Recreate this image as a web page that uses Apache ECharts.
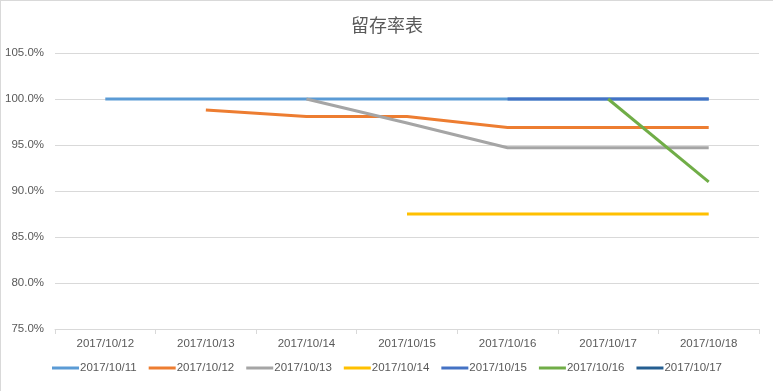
<!DOCTYPE html>
<html>
<head>
<meta charset="utf-8">
<script src="https://cdn.jsdelivr.net/npm/echarts@6/dist/echarts.min.js"></script>
<style>
html,body{margin:0;padding:0;background:#fff;}
#c{width:773px;height:391px;box-sizing:border-box;border-left:1px solid #d9d9d9;border-top:1px solid #d9d9d9;}
</style>
</head>
<body>
<div id="c"></div>
<script>
const categories = ['2017/10/12','2017/10/13','2017/10/14','2017/10/15','2017/10/16','2017/10/17','2017/10/18'];
const seriesNames = ['2017/10/11','2017/10/12','2017/10/13','2017/10/14','2017/10/15','2017/10/16','2017/10/17'];
const s1011 = [100, 100, 100, 100, 100, 100, 100];
const s1012 = [null, 98.8, 98.1, 98.1, 96.9, 96.9, 96.9];
const s1013 = [null, null, 100, 97.4, 94.7, 94.7, 94.7];
const s1014 = [null, null, null, 87.5, 87.5, 87.5, 87.5];
const s1015 = [null, null, null, null, 100, 100, 100];
const s1016 = [null, null, null, null, null, 100, 91.0];
const s1017 = [null, null, null, null, null, null, 100];
const yTicks = {min: 75, max: 105, step: 5};

const seriesData = [s1011, s1012, s1013, s1014, s1015, s1016, s1017];
const colors = ['#5B9BD5','#ED7D31','#A5A5A5','#FFC000','#4472C4','#70AD47','#255E91'];

const chart = echarts.init(document.getElementById('c'), null, {renderer: 'canvas'});
chart.setOption({
  animation: false,
  color: colors,
  title: {
    text: '留存率表',
    left: 'center',
    top: 10,
    textStyle: {fontSize: 18, fontWeight: 'normal', color: '#595959', fontFamily: 'Noto Sans CJK SC'}
  },
  grid: {left: 54, right: 14, top: 52, bottom: 62},
  legend: {
    bottom: 12,
    left: 'center',
    itemWidth: 27,
    itemHeight: 3,
    itemGap: 12,
    icon: 'rect',
    textStyle: {fontSize: 11.5, color: '#595959', fontFamily: 'Liberation Sans', padding: [0,0,0,-4]},
    data: seriesNames
  },
  xAxis: {
    type: 'category',
    data: categories,
    boundaryGap: true,
    axisLine: {lineStyle: {color: '#d9d9d9'}},
    axisTick: {show: true, alignWithLabel: false, length: 5, lineStyle: {color: '#d9d9d9'}},
    axisLabel: {color: '#595959', fontSize: 11.5, fontFamily: 'Liberation Sans', margin: 9}
  },
  yAxis: {
    type: 'value',
    min: yTicks.min,
    max: yTicks.max,
    interval: yTicks.step,
    axisLine: {show: false},
    axisTick: {show: false},
    splitLine: {lineStyle: {color: '#d9d9d9'}},
    axisLabel: {color: '#595959', fontSize: 11.5, fontFamily: 'Liberation Sans', margin: 11,
      formatter: v => v.toFixed(1) + '%'}
  },
  series: seriesNames.map((n, i) => ({
    name: n,
    type: 'line',
    data: seriesData[i],
    showSymbol: false,
    symbol: 'none',
    lineStyle: {width: 3, color: colors[i]},
    itemStyle: {color: colors[i]}
  }))
});
</script>
</body>
</html>
